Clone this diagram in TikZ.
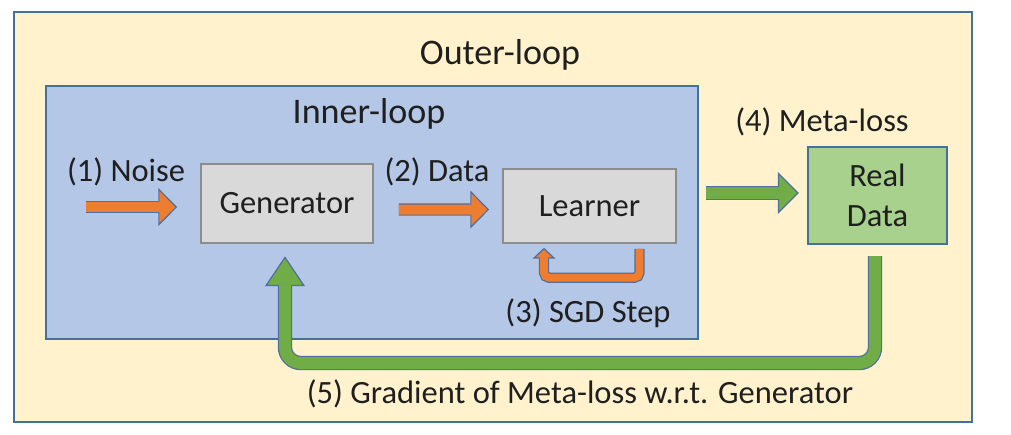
\documentclass[tikz,border=0pt]{standalone}
\usepackage{fontspec}
\setmainfont{Carlito}
\usetikzlibrary{arrows.meta}
\definecolor{OuterFill}{HTML}{FFF2CC}
\definecolor{InnerFill}{HTML}{B4C7E7}
\definecolor{FrameBlue}{HTML}{41719C}
\definecolor{BoxGray}{HTML}{D9D9D9}
\definecolor{BoxEdge}{HTML}{8C8C8C}
\definecolor{RealGreen}{HTML}{A9D18E}
\definecolor{ArrowOrange}{HTML}{ED7D31}
\definecolor{ArrowGreen}{HTML}{70AD47}
\definecolor{ArrowEdge}{HTML}{4F6FA0}
\definecolor{InkGray}{HTML}{1F1F1F}

\begin{document}
\begin{tikzpicture}[
  x=0.02cm, y=-0.02cm,
  every node/.style={text=InkGray},
  frame/.style={draw=FrameBlue, line width=1.2pt},
  stepbox/.style={draw=BoxEdge, line width=0.9pt, fill=BoxGray, font=\fontsize{18.5}{22}\selectfont},
  title/.style={font=\fontsize{20.5}{24}\selectfont},
  tag/.style={font=\fontsize{18.5}{22}\selectfont},
  blockarrow/.style n args={4}{draw=ArrowEdge, line width=#2+1.4pt,
    -{Triangle[width=#3, length=#4, line width=0.7pt, fill=#1]},
    postaction={draw=#1, line width=#2, -, shorten >=#4-1pt}}
]
\useasboundingbox (0,0) rectangle (1011,434);
% the two loops
\draw[frame, fill=OuterFill] (14,12) rectangle (972,422);
\draw[frame, fill=InnerFill] (46,86) rectangle (698,339);
\node[title] (outertitle) at (500,55) {Outer-loop};
\node[title] (innertitle) at (369,114) {Inner-loop};

\node[stepbox, minimum width=3.44cm, minimum height=1.58cm] (gen) at (287,203.5) {Generator};
\node[stepbox, minimum width=3.46cm, minimum height=1.48cm] (learner) at (589.5,206) {Learner};
\node[stepbox, fill=RealGreen, draw=FrameBlue, line width=1.2pt, minimum width=2.78cm,
  minimum height=1.94cm, align=center] (real) at (877.5,195.5) {Real\\[0.7pt]Data};

\node[tag] (noisetag) at (126,172) {(1) Noise};
\node[tag] (datatag) at (437,172) {(2) Data};
\node[tag] (sgdtag) at (588,313) {(3) SGD Step};
\node[tag] (metatag) at (822,122) {(4) Meta-loss};
\node[tag] (gradtag) at (580,394) {(5) Gradient of Meta-loss w.r.t. Generator};

% inner loop arrows
\draw[blockarrow={ArrowOrange}{5.7pt}{21.5pt}{10.8pt}] ([xshift=-2.28cm,yshift=-0.07cm]gen.west) -- ([xshift=-0.46cm,yshift=-0.07cm]gen.west);
\draw[blockarrow={ArrowOrange}{5.7pt}{21.5pt}{10.8pt}] ([xshift=0.5cm,yshift=-0.12cm]gen.east) -- ([xshift=-0.26cm,yshift=-0.07cm]learner.west);
\draw[blockarrow={ArrowOrange}{4.5pt}{13pt}{6.2pt}, rounded corners=3pt] ([xshift=1cm,yshift=-0.1cm]learner.south) -- ++(0,-0.58cm) -| ([xshift=-0.91cm,yshift=-0.08cm]learner.south);
% outer loop arrows
\draw[blockarrow={ArrowGreen}{6.8pt}{23.8pt}{12pt}] ([xshift=-2.02cm,yshift=0.05cm]real.west) -- ([xshift=-0.16cm,yshift=0.05cm]real.west);
\draw[blockarrow={ArrowGreen}{6.8pt}{22.7pt}{17pt}, rounded corners=9pt] ([xshift=-0.05cm,yshift=-0.22cm]real.south) -- ++(0,-2.14cm) -| ([xshift=-0.04cm,yshift=-0.25cm]gen.south);
\end{tikzpicture}
\end{document}
